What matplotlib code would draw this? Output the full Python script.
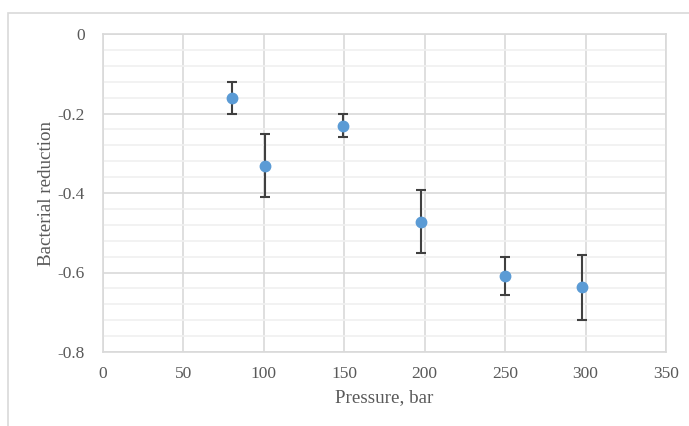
import numpy as np
import matplotlib.pyplot as plt
from matplotlib.patches import Rectangle
from matplotlib.ticker import MultipleLocator

pressure = [80, 101, 149, 198, 250, 298]
reduction = [-0.161, -0.331, -0.231, -0.472, -0.609, -0.637]
err = [0.039, 0.080, 0.029, 0.080, 0.047, 0.082]

plt.rcParams['font.family'] = ['Liberation Serif', 'DejaVu Serif']

fig = plt.figure(figsize=(6.89, 4.26), dpi=100)
ax = fig.add_axes([103/689, 1 - 352/426, (666-103)/689, (352-34)/426])

# outer chart frame (cropped on right and bottom)
fig.patches.append(Rectangle((8/689, -0.2), 1.2, 1.2 - 13/426,
                             transform=fig.transFigure, fill=False,
                             edgecolor='#D9D9D9', linewidth=1.2))

ax.errorbar(pressure, reduction, yerr=err, fmt='o', color='#5B9BD5',
            markersize=7.5, ecolor='#404040', elinewidth=1.5, capsize=3.5,
            capthick=1.5, zorder=3)

ax.set_xlim(0, 350)
ax.set_ylim(-0.8, 0)
ax.xaxis.set_major_locator(MultipleLocator(50))
ax.yaxis.set_minor_locator(MultipleLocator(0.04))
ax.set_yticks([0, -0.2, -0.4, -0.6, -0.8])
ax.set_yticklabels(['0', '-0.2', '-0.4', '-0.6', '-0.8'])

ax.grid(which='major', color='#D9D9D9', linewidth=1.2, zorder=0)
ax.grid(which='minor', axis='y', color='#F0F0F0', linewidth=1.2, zorder=0)
ax.set_axisbelow(True)
for s in ax.spines.values():
    s.set_color('#D9D9D9')
    s.set_linewidth(1.2)

ax.tick_params(which='both', length=0, labelsize=12.5, colors='#595959')
ax.tick_params(axis='y', pad=13)
ax.tick_params(axis='x', pad=10)

ax.set_xlabel('Pressure, bar', fontsize=13.7, color='#595959', labelpad=5)
ax.set_ylabel('Bacterial reduction', fontsize=13.7, color='#595959', labelpad=2)

fig.savefig('out.png', dpi=100)
